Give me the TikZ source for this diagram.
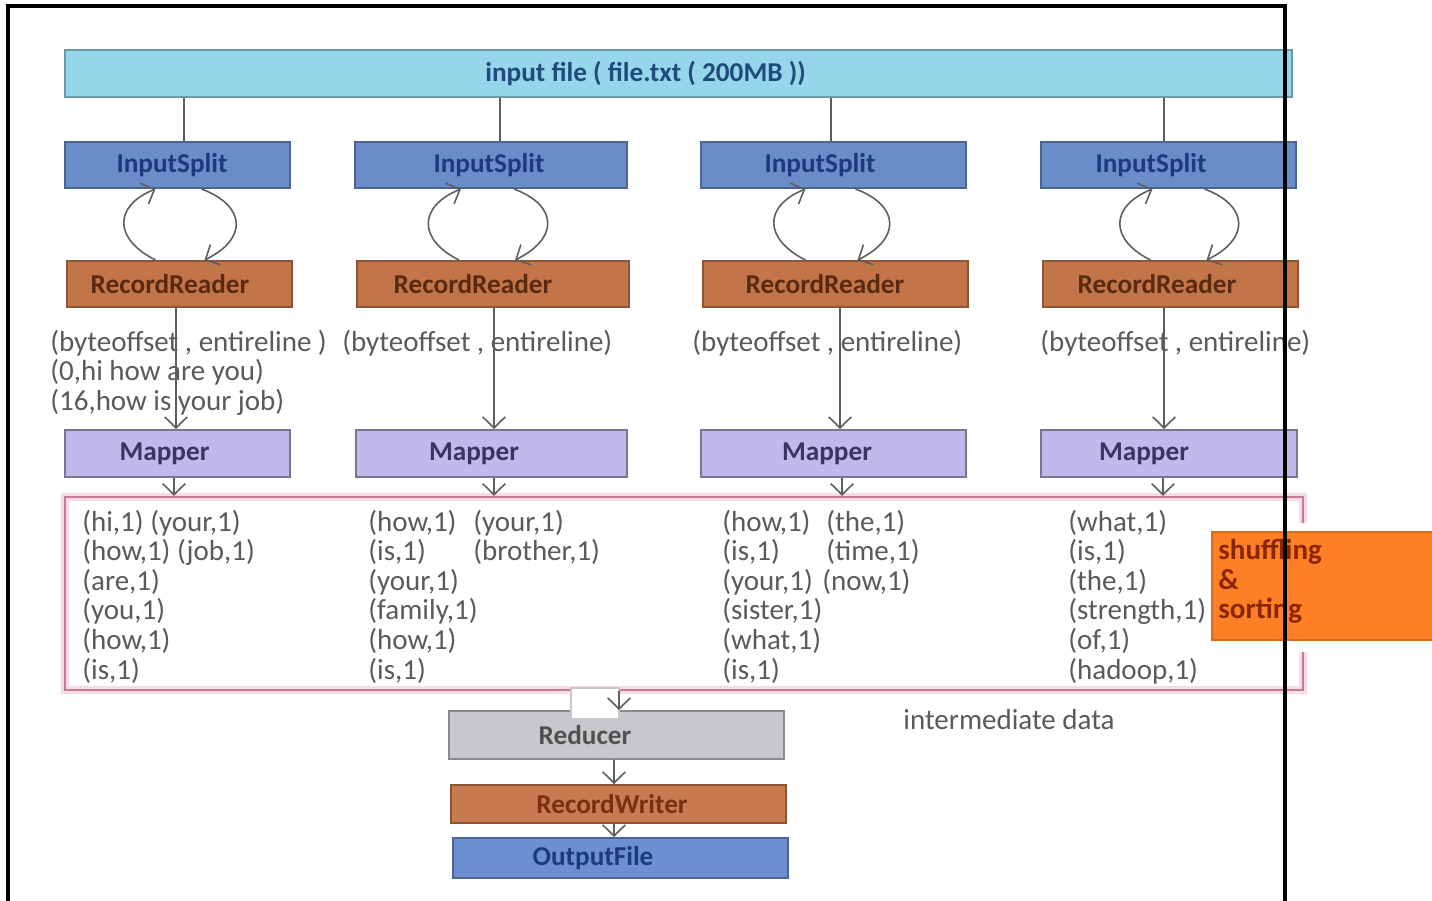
\documentclass[tikz,border=0pt]{standalone}
\usepackage{fontspec}
\setmainfont{Carlito}
\usetikzlibrary{arrows.meta,calc}
\definecolor{cInF}{HTML}{95D6EA}
\definecolor{cInD}{HTML}{6E9AA8}
\definecolor{cInT}{HTML}{1F4A7A}
\definecolor{cSpF}{HTML}{6A8CC8}
\definecolor{cSpD}{HTML}{4A6590}
\definecolor{cSpT}{HTML}{1F3A7A}
\definecolor{cRRF}{HTML}{C27548}
\definecolor{cRRD}{HTML}{8E5535}
\definecolor{cRRT}{HTML}{5A2A10}
\definecolor{cMpF}{HTML}{C3B8EC}
\definecolor{cMpD}{HTML}{7A7690}
\definecolor{cMpT}{HTML}{3A3560}
\definecolor{cRdF}{HTML}{C8C8CC}
\definecolor{cRdD}{HTML}{8A8A8E}
\definecolor{cRdT}{HTML}{505050}
\definecolor{cRWF}{HTML}{C87A50}
\definecolor{cRWT}{HTML}{7A3010}
\definecolor{cOfF}{HTML}{6B8FD0}
\definecolor{cOfD}{HTML}{4A6590}
\definecolor{cBig}{HTML}{C77B8E}
\definecolor{cGlow}{HTML}{F6DDE5}
\definecolor{cOr}{HTML}{FD8024}
\definecolor{cOrD}{HTML}{D86A1E}
\definecolor{cOrT}{HTML}{8B2500}
\definecolor{cArr}{HTML}{5E5E5E}
\definecolor{cDat}{HTML}{5A5A5A}
\newcommand\mybox[7]{%
  \pgfmathsetmacro\mbcx{(#2+#4)/2}%
  \pgfmathsetmacro\mbcy{(#3+#5)/2}%
  \pgfmathsetmacro\mbw{(#4-#2)*0.02}%
  \pgfmathsetmacro\mbh{(#5-#3)*0.02}%
  \node[#6, minimum width=\mbw cm, minimum height=\mbh cm] (#1) at (\mbcx,\mbcy) {#7};}
\begin{document}
\begin{tikzpicture}[x=0.02cm,y=-0.02cm,
  boxbase/.style={draw, line width=1.1pt, inner sep=0pt, font=\fontsize{15.5}{18}\selectfont\bfseries},
  inpbox/.style={boxbase, fill=cInF, draw=cInD, text=cInT},
  splitbox/.style={boxbase, fill=cSpF, draw=cSpD, text=cSpT},
  rrbox/.style={boxbase, fill=cRRF, draw=cRRD, text=cRRT},
  mapbox/.style={boxbase, fill=cMpF, draw=cMpD, text=cMpT},
  redbox/.style={boxbase, fill=cRdF, draw=cRdD, text=cRdT},
  rwbox/.style={boxbase, fill=cRWF, draw=cRRD, text=cRWT},
  ofbox/.style={boxbase, fill=cOfF, draw=cOfD, text=cSpT},
  dat/.style={text=cDat, font=\fontsize{16.5}{19}\selectfont, inner sep=0pt, anchor=base west},
  ln/.style={draw=cArr, line width=0.9pt},
  arr/.style={ln, -{Straight Barb[length=2.2mm,width=4.5mm]}}]
\useasboundingbox (0,0) rectangle (1432,901);
\fill[white] (0,0) rectangle (1432,901);

% top input file
\mybox{inp}{65}{50}{1292}{97}{inpbox}{\raisebox{0.1cm}{input file ( file.txt ( 200MB ))}\kern1.32cm}

% rows of boxes
\mybox{is1}{65}{142}{290}{188}{splitbox}{InputSplit\kern0.22cm}
\mybox{is2}{355}{142}{627}{188}{splitbox}{InputSplit\kern0.08cm}
\mybox{is3}{701}{142}{966}{188}{splitbox}{InputSplit\kern0.54cm}
\mybox{is4}{1041}{142}{1296}{188}{splitbox}{InputSplit\kern0.7cm}

\mybox{rr1}{67}{261}{292}{307}{rrbox}{RecordReader\kern0.38cm}
\mybox{rr2}{357}{261}{629}{307}{rrbox}{RecordReader\kern0.8cm}
\mybox{rr3}{703}{261}{968}{307}{rrbox}{RecordReader\kern0.42cm}
\mybox{rr4}{1043}{261}{1298}{307}{rrbox}{RecordReader\kern0.54cm}

\mybox{mp1}{65}{430}{290}{477}{mapbox}{Mapper\kern0.52cm}
\mybox{mp2}{356}{430}{627}{477}{mapbox}{Mapper\kern0.7cm}
\mybox{mp3}{701}{430}{966}{477}{mapbox}{Mapper\kern0.26cm}
\mybox{mp4}{1041}{430}{1297}{477}{mapbox}{Mapper\kern1.0cm}

% input file -> InputSplit lines
\foreach \i/\o in {1/6.5,2/9,3/-2.5,4/-4.5}{
  \coordinate (t\i) at ($(is\i.north)+(\o,0)$);
  \draw[ln] (t\i |- inp.south) -- (t\i);
}

% curved arrows between InputSplit and RecordReader
\foreach \i/\ls/\lt/\rs/\re in {1/-24/-22/24/25, 2/-34/-30/23/22, 3/-30/-28/22/22, 4/-20/-16/36/36}{
  \draw[arr] ($(rr\i.north)+(\ls,0)$) .. controls +(-42,-21) and +(-42,17) .. ($(is\i.south)+(\lt,0)$);
  \draw[arr] ($(is\i.south)+(\rs,0)$) .. controls +(45,17) and +(43,-21) .. ($(rr\i.north)+(\re,0)$);
}

% byteoffset labels
\node[dat] (bo1) at (50,352) {(byteoffset , entireline )};
\node[dat] (bo2) at (342,352) {(byteoffset , entireline)};
\node[dat] (bo3) at (692,352) {(byteoffset , entireline)};
\node[dat] (bo4) at (1040,352) {(byteoffset , entireline)};
\node[dat] (ex1) at (50,381) {(0,hi how are you)};
\node[dat] (ex2) at (50,411) {(16,how is your job)};

% RecordReader -> Mapper arrows
\foreach \i/\o in {1/-3.5,2/1,3/4.5,4/-6.5}{
  \coordinate (u\i) at ($(rr\i.south)+(\o,0)$);
  \draw[arr] (u\i) -- (u\i |- mp\i.north);
}

% intermediate data box
\draw[cGlow, line width=5pt] (65,497) rectangle (1303,690);
\node[draw=cBig, line width=1.4pt, minimum width=24.76cm, minimum height=3.86cm, inner sep=0pt] (big) at (684,593.5) {};

% Mapper -> big box arrows
\foreach \i/\o in {1/-3.5,2/2.5,3/8.5,4/-6}{
  \coordinate (v\i) at ($(mp\i.south)+(\o,0)$);
  \draw[arr] (v\i) -- (v\i |- big.north);
}

% data lists
\foreach [count=\k] \t in {{(hi,1) (your,1)},{(how,1) (job,1)},{(are,1)},{(you,1)},{(how,1)},{(is,1)}}
  \node[dat] (da\k) at (82,{531+(\k-1)*29.6}) {\t};
\foreach [count=\k] \t in {{(how,1)},{(is,1)},{(your,1)},{(family,1)},{(how,1)},{(is,1)}}
  \node[dat] (db\k) at (368,{531+(\k-1)*29.6}) {\t};
\node[dat] (dbx1) at (473,531) {(your,1)};
\node[dat] (dbx2) at (473,560.6) {(brother,1)};
\foreach [count=\k] \t in {{(how,1)},{(is,1)},{(your,1)},{(sister,1)},{(what,1)},{(is,1)}}
  \node[dat] (dc\k) at (722,{531+(\k-1)*29.6}) {\t};
\node[dat] (dcx1) at (826,531) {(the,1)};
\node[dat] (dcx2) at (826,560.6) {(time,1)};
\node[dat] (dcx3) at (822,590.2) {(now,1)};
\foreach [count=\k] \t in {{(what,1)},{(is,1)},{(the,1)},{(strength,1)},{(of,1)},{(hadoop,1)}}
  \node[dat] (dd\k) at (1068,{531+(\k-1)*29.6}) {\t};

% shuffling & sorting
\fill[white] (1292,523) rectangle (1312,652);
\node[fill=cOr, draw=cOrD, line width=0.8pt, minimum width=4.6cm, minimum height=2.16cm, inner sep=0pt] (shuf) at (1327,586) {};
\node[text=cOrT, font=\fontsize{16.5}{19}\selectfont\bfseries, inner sep=0pt, anchor=base west] (sh1) at (1218,559) {shuffling};
\node[text=cOrT, font=\fontsize{16.5}{19}\selectfont\bfseries, inner sep=0pt, anchor=base west] (sh2) at (1218,589) {\&};
\node[text=cOrT, font=\fontsize{16.5}{19}\selectfont\bfseries, inner sep=0pt, anchor=base west] (sh3) at (1218,618) {sorting};

% reduce side
\mybox{red}{449}{711}{784}{759}{redbox}{Reducer\kern1.26cm}
\mybox{rw}{451}{785}{786}{823}{rwbox}{RecordWriter\kern0.26cm}
\mybox{of}{453}{838}{788}{878}{ofbox}{OutputFile\kern1.1cm}
\node[draw=black!22, fill=white, line width=0.6pt, minimum width=0.96cm, minimum height=0.62cm, inner sep=0pt] (blank) at (595,703.5) {};
\coordinate (w0) at ($(red.north)+(2.5,0)$);
\draw[arr] (w0 |- big.south) -- (w0);
\coordinate (w1) at ($(red.south)+(-2.5,0)$);
\draw[arr] (w1) -- (w1 |- rw.north);
\coordinate (w2) at ($(rw.south)+(-4.5,0)$);
\draw[arr] (w2) -- (w2 |- of.north);

\node[dat, anchor=center] (imd) at (1009,720) {intermediate data};

% outer frame (open at bottom)
\draw[black, line width=1.8pt] (8,901) -- (8,6) -- (1285,6) -- (1285,901);
\end{tikzpicture}
\end{document}
